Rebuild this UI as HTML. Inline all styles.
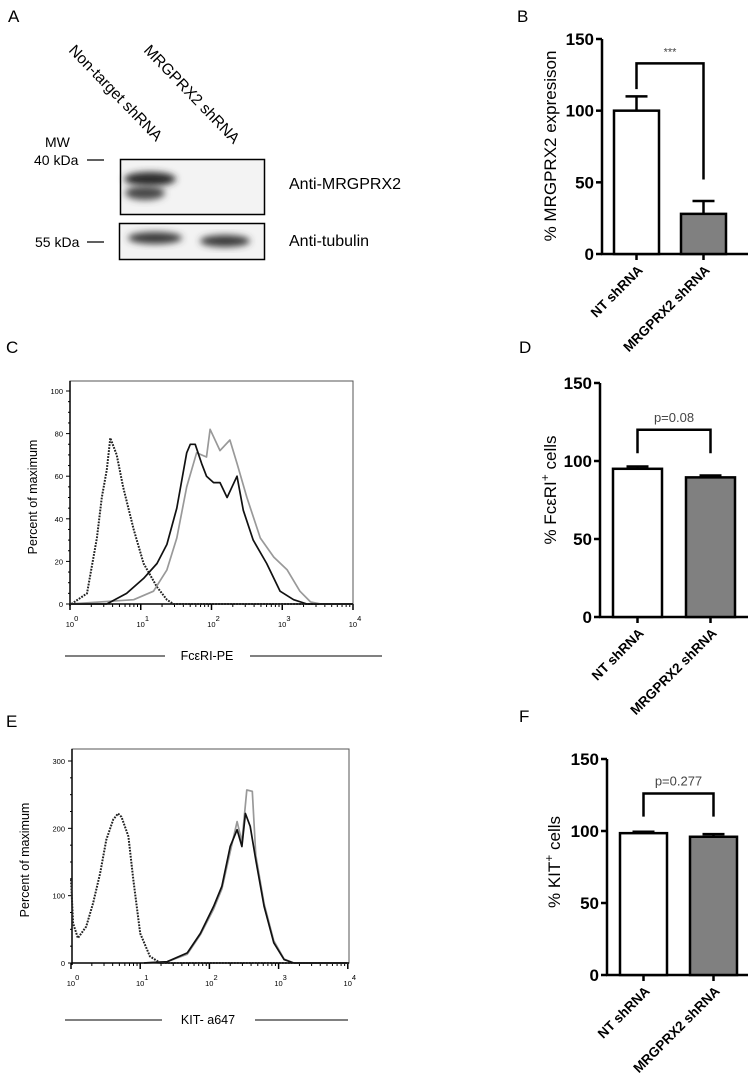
<!DOCTYPE html>
<html><head><meta charset="utf-8"><style>
html,body{margin:0;padding:0;background:#fff;}
svg{display:block;font-family:"Liberation Sans",sans-serif;}
</style></head><body>
<svg id="fig" width="750" height="1087" viewBox="0 0 750 1087" xmlns="http://www.w3.org/2000/svg">
<defs><filter id="blur" x="-50%" y="-50%" width="200%" height="200%"><feGaussianBlur stdDeviation="3.5"/></filter></defs>
<text x="8" y="22" font-size="17">A</text>
<text x="517" y="22" font-size="17">B</text>
<text x="6" y="353" font-size="17">C</text>
<text x="519" y="353" font-size="17">D</text>
<text x="6" y="727" font-size="17">E</text>
<text x="519" y="722" font-size="17">F</text>

<g>
<text transform="translate(68,51) rotate(46)" font-size="15.5">Non-target shRNA</text>
<text transform="translate(143,51) rotate(46)" font-size="15.5">MRGPRX2 shRNA</text>
<text x="45" y="147" font-size="14">MW</text>
<text x="34" y="165" font-size="14">40 kDa</text>
<line x1="87" y1="160" x2="104" y2="160" stroke="#000" stroke-width="1.3"/>
<text x="35" y="247" font-size="14">55 kDa</text>
<line x1="87" y1="242" x2="104" y2="242" stroke="#000" stroke-width="1.3"/>
<rect x="120.5" y="159.5" width="144" height="55" fill="#f3f3f3" stroke="#000" stroke-width="1.5"/>
<ellipse cx="150" cy="179" rx="26" ry="7" fill="#2a2a2a" filter="url(#blur)"/>
<ellipse cx="145" cy="193" rx="20" ry="7" fill="#4a4a4a" filter="url(#blur)"/>
<rect x="119.5" y="223.5" width="145" height="36" fill="#f3f3f3" stroke="#000" stroke-width="1.5"/>
<ellipse cx="155" cy="238" rx="27" ry="6" fill="#3a3a3a" filter="url(#blur)"/>
<ellipse cx="225" cy="241" rx="25" ry="6" fill="#3a3a3a" filter="url(#blur)"/>
<text x="289" y="189" font-size="16">Anti-MRGPRX2</text>
<text x="289" y="246" font-size="16">Anti-tubulin</text>
</g>
<g id="bars"></g>
<g id="hists"></g>
</svg>
<script>
const barCategories = ["NT shRNA", "MRGPRX2 shRNA"];
const barTicks = [0, 50, 100, 150];
const valuesB = [100, 28];
const errorsB = [10, 9];
const valuesD = [95, 89.5];
const errorsD = [1.5, 1.2];
const valuesF = [98.5, 96];
const errorsF = [1, 1.8];
const sigB = "***";
const sigD = "p=0.08";
const sigF = "p=0.277";

const cIsoX = [0.02,0.24,0.38,0.45,0.52,0.57,0.66,0.75,0.9,1.04,1.23,1.37,1.46,4];
const cIsoY = [0,5,31,50,63,78,70,55,35,19,8,2,0,0];
const cNtX = [0,0.52,0.8,1.04,1.23,1.37,1.51,1.65,1.7,1.77,1.86,1.93,2.03,2.12,2.22,2.36,2.45,2.59,2.78,2.97,3.16,3.35,4];
const cNtY = [0,0,5,12,19,28,45,71,75,75,66,60,57,57,50,60,44,30,19,6,2,0,0];
const cKdX = [0,0.9,1.18,1.37,1.51,1.65,1.79,1.93,1.98,2.12,2.26,2.36,2.5,2.69,2.88,3.07,3.25,3.4,3.54,4];
const cKdY = [0,2,6,16,31,55,71,69,82,72,77,66,50,31,22,16,6,1,0,0];
const eIsoX = [0,0.03,0.1,0.22,0.32,0.42,0.51,0.61,0.68,0.73,0.83,0.9,1.0,1.14,1.29,4];
const eIsoY = [124,59,37,54,89,133,183,213,222,217,188,124,44,10,0,0];
const eNtX = [1.05,1.39,1.68,1.87,2.06,2.18,2.3,2.4,2.47,2.52,2.59,2.67,2.79,2.93,3.08,3.22,4];
const eNtY = [0,2,15,44,84,114,173,198,173,222,203,153,84,30,5,0,0];
const eKdX = [1.05,1.39,1.68,1.87,2.06,2.18,2.3,2.4,2.47,2.54,2.62,2.67,2.79,2.93,3.08,3.22,4];
const eKdY = [0,2,13,42,80,110,165,210,180,257,255,160,88,33,6,0,0];

const NS = "http://www.w3.org/2000/svg";
function mk(parent, tag, attrs, text) {
  const el = document.createElementNS(NS, tag);
  for (const k in attrs) el.setAttribute(k, attrs[k]);
  if (text !== undefined) el.textContent = text;
  parent.appendChild(el);
  return el;
}

function barChart(cfg) {
  const g = mk(document.getElementById("bars"), "g", {});
  
  
  const y = v => cfg.y0 + (cfg.y150 - cfg.y0) * v / 150;
  const ax = mk(g, "line", {x1: cfg.ax, y1: cfg.y150, x2: cfg.ax, y2: y(0) + 1, stroke: "#000", "stroke-width": 2.5});
  
  
  const xa = mk(g, "line", {x1: cfg.ax - 1, y1: y(0), x2: 748, y2: y(0), stroke: "#000", "stroke-width": 2.5});
  
  
  barTicks.forEach(t => {
    mk(g, "line", {x1: cfg.ax - 6, y1: y(t), x2: cfg.ax, y2: y(t), stroke: "#000", "stroke-width": 2.5});
    const tl = mk(g, "text", {x: cfg.ax - 8, y: y(t) + 6, "font-size": 17, "font-weight": "bold", "text-anchor": "end"}, String(t));
    
    
  });
  cfg.vals.forEach((v, i) => {
    const x0 = cfg.bx[i], w = cfg.bw;
    const cx = x0 + w / 2;
    mk(g, "line", {x1: cx, y1: y(v), x2: cx, y2: y(v + cfg.errs[i]), stroke: "#000", "stroke-width": 2.5});
    mk(g, "line", {x1: cx - 11, y1: y(v + cfg.errs[i]), x2: cx + 11, y2: y(v + cfg.errs[i]), stroke: "#000", "stroke-width": 2.5});
    const r = mk(g, "rect", {x: x0, y: y(v), width: w, height: y(0) - y(v), fill: i ? "#808080" : "#fff", stroke: "#000", "stroke-width": 2.5});
    
    
    mk(g, "line", {x1: cx, y1: y(0), x2: cx, y2: y(0) + 6, stroke: "#000", "stroke-width": 2.5});
    const lab = mk(g, "text", {transform: `translate(${cx + 7},${y(0) + 17}) rotate(-45)`, "font-size": 13.5, "font-weight": "bold", "text-anchor": "end"}, barCategories[i]);
    
    
  });
  const c0 = cfg.bx[0] + cfg.bw / 2, c1 = cfg.bx[1] + cfg.bw / 2;
  const br = mk(g, "path", {d: `M${c0},${y(cfg.legs[0])} V${y(cfg.top)} H${c1} V${y(cfg.legs[1])}`, fill: "none", stroke: "#000", "stroke-width": 2.5});
  
  
  const st = mk(g, "text", {x: (c0 + c1) / 2, y: y(cfg.top) - 8, "font-size": cfg.sig === "***" ? 11 : 13, fill: "#444", "text-anchor": "middle"}, cfg.sig);
  
  
  const yl = mk(g, "text", {transform: `translate(${cfg.lx},${cfg.ly}) rotate(-90)`, "font-size": 17, "text-anchor": "middle"});
  
  
  yl.innerHTML = cfg.label;
}

barChart({name: "bar-chart-b", ax: 602, y0: 254, y150: 39, bx: [614, 681], bw: 45, vals: valuesB, errs: errorsB,
  legs: [115, 52], top: 133, sig: sigB, lx: 556, ly: 146, label: "% MRGPRX2 expresison"});
barChart({name: "bar-chart-d", ax: 600, y0: 617, y150: 383, bx: [613, 686], bw: 49, vals: valuesD, errs: errorsD,
  legs: [105, 105], top: 120, sig: sigD, lx: 556, ly: 490, label: '% FcεRI<tspan dy="-7" font-size="12">+</tspan><tspan dy="7"> cells</tspan>'});
barChart({name: "bar-chart-f", ax: 607, y0: 975, y150: 759, bx: [620, 690], bw: 47, vals: valuesF, errs: errorsF,
  legs: [110, 110], top: 126, sig: sigF, lx: 560, ly: 862, label: '% KIT<tspan dy="-7" font-size="12">+</tspan><tspan dy="7"> cells</tspan>'});

function hist(cfg) {
  const g = mk(document.getElementById("hists"), "g", {});
  
  
  const X = v => cfg.x0 + v * cfg.dec;
  const Y = v => cfg.yb - v * (cfg.yb - cfg.ytop) / cfg.ymax;
  const fr = mk(g, "rect", {x: cfg.left, y: cfg.frameTop, width: cfg.right - cfg.left, height: cfg.yb - cfg.frameTop, fill: "none", stroke: "#555", "stroke-width": 1});
  
  
  mk(g, "line", {x1: cfg.left, y1: cfg.frameTop, x2: cfg.left, y2: cfg.yb + 2, stroke: "#000", "stroke-width": 1.5});
  mk(g, "line", {x1: cfg.left, y1: cfg.yb, x2: cfg.right, y2: cfg.yb, stroke: "#000", "stroke-width": 1.5});
  for (let v = 0; v <= cfg.ymax; v += cfg.minor) {
    const major = v % cfg.major === 0;
    mk(g, "line", {x1: cfg.left - (major ? 4 : 2), y1: Y(v), x2: cfg.left, y2: Y(v), stroke: "#000", "stroke-width": 1});
    if (major) {
      const t = mk(g, "text", {x: cfg.left - 7, y: Y(v) + 3, "font-size": 7.5, "text-anchor": "end"}, String(v));
      
      
    }
  }
  for (let d = 0; d <= 4; d++) {
    mk(g, "line", {x1: X(d), y1: cfg.yb, x2: X(d), y2: cfg.yb + 6, stroke: "#000", "stroke-width": 1.5});
    const t = mk(g, "text", {x: X(d) + 2, y: cfg.yb + 23, "font-size": 7.5, "text-anchor": "middle"});
    t.innerHTML = '10<tspan dy="-6">' + d + '</tspan>';
    
    
    if (d < 4) for (let m = 2; m < 10; m++) {
      mk(g, "line", {x1: X(d + Math.log10(m)), y1: cfg.yb, x2: X(d + Math.log10(m)), y2: cfg.yb + 3, stroke: "#000", "stroke-width": 1});
    }
  }
  const series = [[cfg.iso, "#222", "1.8,1.2", "isotype-histogram"], [cfg.kd, "#999", null, "mrgprx2-shrna-histogram"], [cfg.nt, "#111", null, "nt-shrna-histogram"]];
  series.forEach(([s, col, dash, nm]) => {
    const pts = s[0].map((v, i) => X(v).toFixed(1) + "," + Y(s[1][i]).toFixed(1)).join(" ");
    const a = {points: pts, fill: "none", stroke: col, "stroke-width": dash ? 2 : 1.7, "stroke-linejoin": "round"};
    if (dash) a["stroke-dasharray"] = dash;
    const pl = mk(g, "polyline", a);
    
    
  });
  const yl = mk(g, "text", {transform: `translate(${cfg.ylx},${cfg.yly}) rotate(-90)`, "font-size": 12.5, "text-anchor": "middle"}, "Percent of maximum");
  
  
  mk(g, "line", {x1: 65, y1: cfg.xty - 4, x2: cfg.l1, y2: cfg.xty - 4, stroke: "#000", "stroke-width": 1});
  mk(g, "line", {x1: cfg.l2, y1: cfg.xty - 4, x2: cfg.l3, y2: cfg.xty - 4, stroke: "#000", "stroke-width": 1});
  const xt = mk(g, "text", {x: cfg.xtx, y: cfg.xty, "font-size": 12.5, "text-anchor": "middle"}, cfg.xtitle);
  
  
}

hist({name: "histogram-c", left: 70, right: 353, frameTop: 381, yb: 604, ytop: 391, ymax: 100, major: 20, minor: 5,
  x0: 70, dec: 70.75, iso: [cIsoX, cIsoY], nt: [cNtX, cNtY], kd: [cKdX, cKdY],
  ylx: 37, yly: 497, xtitle: "FcεRI-PE", xtx: 207, xty: 660, l1: 165, l2: 250, l3: 382});
hist({name: "histogram-e", left: 72, right: 349, frameTop: 749, yb: 963, ytop: 761, ymax: 300, major: 100, minor: 25,
  x0: 71, dec: 69.2, iso: [eIsoX, eIsoY], nt: [eNtX, eNtY], kd: [eKdX, eKdY],
  ylx: 29, yly: 860, xtitle: "KIT- a647", xtx: 208, xty: 1024, l1: 162, l2: 255, l3: 348});
</script>
</body></html>
